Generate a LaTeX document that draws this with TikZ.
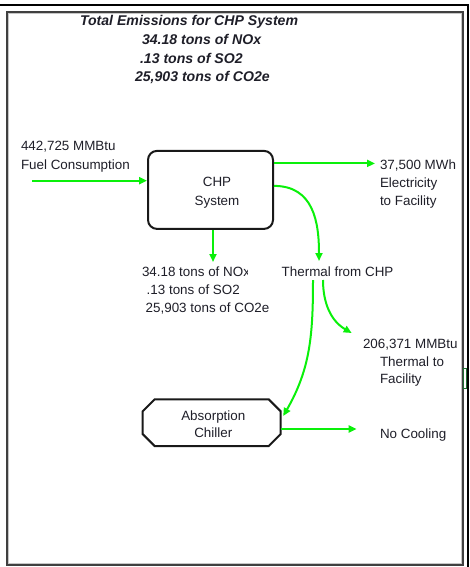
\documentclass[tikz,border=0pt]{standalone}
\usepackage{fontspec}
\setmainfont{Liberation Sans}
\usetikzlibrary{arrows.meta}
\definecolor{flow}{RGB}{10,240,10}
\definecolor{txt}{RGB}{30,30,40}
\definecolor{tagg}{RGB}{30,110,50}
\begin{document}
\begin{tikzpicture}[x=1pt,y=-1pt,
  lbl/.style={anchor=base west, inner sep=0, outer sep=0, text=txt, font=\fontsize{13.4}{16}\selectfont},
  ttl/.style={anchor=base west, inner sep=0, outer sep=0, text=txt, font=\fontsize{14.1}{17}\selectfont\bfseries\itshape},
  flowline/.style={draw=flow, line width=2pt, -{Triangle[length=8pt,width=7pt]}},
  boxline/.style={draw=black!90, line width=2pt}]
\useasboundingbox (0,0) rectangle (470,567);
% frame
\draw[black!75, line width=1.6pt] (7,12) rectangle (463,565);
\draw[gray!45, line width=0.9pt] (8.6,13.6) rectangle (461.4,563.4);
\draw[tagg, line width=1.3pt] (463.8,368.3) rectangle (467,388.3);
\draw[black, line width=2.4pt] (0,5) -- (467.8,5) -- (467.8,567);
% title
\node[ttl] (t1) at (80,26) {Total Emissions for CHP System};
\node[ttl] (t2) at (142,44.5) {34.18 tons of NOx};
\node[ttl] (t3) at (140,63.3) {.13 tons of SO2};
\node[ttl] (t4) at (135,82) {25,903 tons of CO2e};
% CHP system
\node[boxline, rounded corners=9pt, minimum width=125pt, minimum height=78pt, inner sep=0] (chp) at (210.5,189.9) {};
\node[lbl, anchor=base] (chp1) at (217,186.7) {CHP};
\node[lbl, anchor=base] (chp2) at (217,205) {System};
% fuel
\node[lbl] (fuel1) at (21,150.7) {442,725 MMBtu};
\node[lbl] (fuel2) at (21,169) {Fuel Consumption};
\coordinate (fuelstart) at (32,180.7);
\draw[flowline] (fuelstart) -- (fuelstart -| chp.west);
% electricity
\node[lbl] (el1) at (380,169) {37,500 MWh};
\node[lbl] (el2) at (380,187.3) {Electricity};
\node[lbl] (el3) at (380,205) {to Facility};
\coordinate (eo) at ([yshift=26.5pt]chp.east);
\draw[flowline, shorten >=5pt] (eo) -- (eo -| el1.base west);
% emissions
\begin{scope}
\clip (130,255) rectangle (247.5,285);
\node[lbl] (nox1) at (142,276.7) {34.18 tons of NOx};
\end{scope}
\node[lbl] (nox2) at (146.7,294.3) {.13 tons of SO2};
\node[lbl] (nox3) at (145.7,312.7) {25,903 tons of CO2e};
\coordinate (so) at ([xshift=2.5pt]chp.south);
\draw[flowline, shorten >=5pt] (so) -- (so |- nox1.north);
% thermal
\node[lbl] (therm) at (281.7,276.7) {Thermal from CHP};
\draw[flowline] ([yshift=4pt]chp.east) to[out=0,in=90,looseness=1.15] ([xshift=37.3pt,yshift=15.7pt]therm.base west);
% thermal to facility
\node[lbl] (fac1) at (363,348.3) {206,371 MMBtu};
\node[lbl] (fac2) at (380,366) {Thermal to};
\node[lbl] (fac3) at (380,383) {Facility};
\draw[flowline] ([xshift=41.3pt,yshift=-3.3pt]therm.base west) to[out=-90,in=150] ([xshift=-11.3pt,yshift=15.3pt]fac1.base west);
% absorption chiller
\node[minimum width=138pt, minimum height=46.7pt, inner sep=0, outer sep=0] (chil) at (211.7,422.7) {};
\draw[boxline] ([xshift=12pt]chil.north west) -- ([xshift=-12pt]chil.north east) -- ([yshift=-12pt]chil.north east) -- ([yshift=12pt]chil.south east) -- ([xshift=-12pt]chil.south east) -- ([xshift=12pt]chil.south west) -- ([yshift=12pt]chil.south west) -- ([yshift=-12pt]chil.north west) -- cycle;
\node[lbl, anchor=base] (chil1) at (213.3,420) {Absorption};
\node[lbl, anchor=base] (chil2) at (213.3,437.3) {Chiller};
\draw[flowline] ([xshift=31.3pt,yshift=-3.3pt]therm.base west) to[out=-90,in=60] ([xshift=2.5pt,yshift=6.7pt]chil.east);
% no cooling
\node[lbl] (nocool) at (380,438.3) {No Cooling};
\coordinate (co) at ([yshift=-6.3pt]chil.east);
\draw[flowline, shorten >=23.3pt] (co) -- (co -| nocool.base west);
\end{tikzpicture}
\end{document}
